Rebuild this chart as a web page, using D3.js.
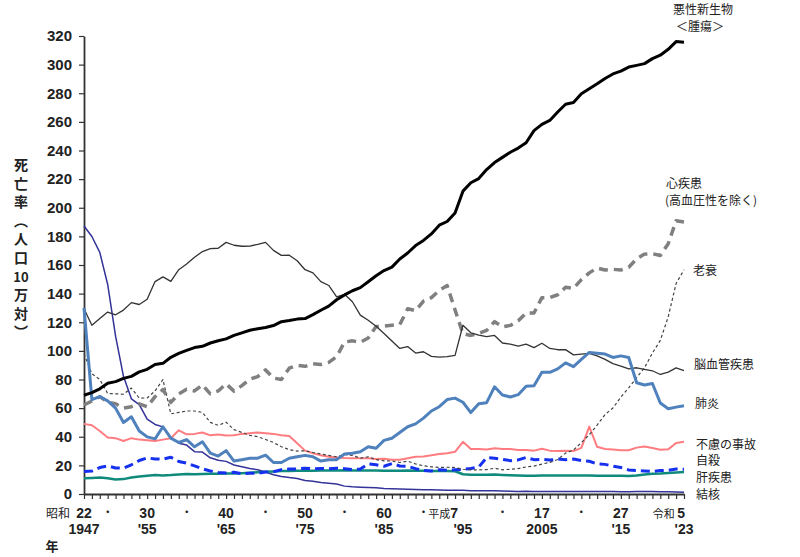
<!DOCTYPE html>
<html>
<head>
<meta charset="utf-8">
<script src="https://cdn.jsdelivr.net/npm/d3@7"></script>
<style>
  body { margin: 0; background: #fff; }
  svg text { font-family: "Noto Sans CJK JP", "Liberation Sans", sans-serif; fill: #222; }
  .num { font-family: "Liberation Sans", Arial, sans-serif; font-weight: bold; }
</style>
</head>
<body>
<div id="chart"></div>
<script>
// years 1947 (昭和22) .. 2023 (令和5)
const years = d3.range(1947, 2024);

// death rates per 100,000 population
const cancer = [69.0, 70.8, 73.5,
  77.4, 78.5, 80.8, 82.2, 85.3, 87.1, 90.5, 91.3, 95.5, 98.2,
  100.4, 102.3, 103.2, 105.5, 107.1, 108.4, 110.8, 112.6, 114.4, 115.5,
  116.3, 117.7, 120.4, 121.2, 122.2, 122.6, 125.3, 128.4, 131.3, 135.7,
  139.1, 142.0, 144.2, 148.3, 152.5, 156.1, 158.5, 164.2, 168.4, 173.6,
  177.2, 181.7, 187.8, 190.4, 196.4, 211.6, 217.5, 220.4, 226.7, 231.6,
  235.2, 238.8, 241.7, 245.4, 253.9, 258.3, 261.0, 266.9, 272.3, 273.5,
  279.7, 283.2, 286.6, 290.3, 293.5, 295.5, 298.3, 299.5, 300.7, 304.2,
  306.6, 310.7, 316.1, 315.6];

const heart = [62.2, 65.0, 68.0,
  64.2, 63.0, 60.0, 61.0, 63.0, 60.9, 68.0, 73.0, 64.0, 70.0,
  73.2, 72.0, 76.2, 70.0, 72.0, 77.0, 71.9, 75.7, 80.2, 82.0,
  86.7, 81.0, 80.0, 87.9, 90.0, 89.2, 91.0, 90.5, 92.0, 96.0,
  106.2, 107.0, 106.0, 109.0, 117.0, 117.3, 117.9, 118.4, 129.4, 128.1,
  134.8, 137.2, 142.2, 145.6, 128.6, 112.0, 110.8, 112.2, 114.3, 120.4,
  116.8, 117.8, 121.0, 126.5, 126.5, 137.2, 137.2, 139.2, 144.4, 143.7,
  149.8, 154.5, 157.9, 156.5, 157.0, 156.5, 158.4, 164.3, 167.6, 167.9,
  166.6, 174.9, 190.9, 190.1];

const senility = [98.0, 84.0, 80.0,
  70.2, 70.0, 69.7, 74.0, 67.0, 67.1, 72.0, 80.0, 56.0, 57.0,
  58.0, 58.0, 57.0, 50.0, 48.0, 50.1, 45.0, 43.0, 41.0, 40.0,
  38.1, 36.0, 33.0, 31.0, 30.0, 30.2, 29.0, 28.0, 27.0, 26.0,
  27.6, 27.0, 25.0, 26.0, 24.0, 23.2, 23.0, 22.0, 23.0, 21.0,
  19.7, 19.0, 18.6, 18.7, 18.5, 17.3, 16.8, 16.9, 17.0, 18.0,
  16.9, 17.3, 17.7, 18.9, 19.5, 20.9, 22.1, 24.1, 28.6, 30.7,
  35.9, 41.4, 48.2, 55.5, 60.1, 67.7, 74.2, 81.3, 88.2, 98.5,
  107.3, 123.8, 147.1, 156.7];

const cerebro = [129.4, 117.9, 122.6,
  127.1, 125.2, 128.5, 133.7, 132.4, 136.1, 148.4, 151.7, 148.6, 156.7,
  160.7, 165.4, 169.4, 171.4, 171.7, 175.8, 173.8, 173.1, 173.2, 174.4,
  175.8, 170.2, 166.7, 166.8, 163.0, 156.7, 154.5, 148.4, 145.7, 137.7,
  139.5, 134.3, 125.0, 121.4, 117.2, 112.2, 106.9, 101.7, 103.0, 98.5,
  99.4, 96.2, 95.6, 96.0, 96.9, 117.9, 112.6, 111.0, 110.0, 110.8,
  105.5, 104.7, 103.4, 104.7, 102.3, 105.3, 101.7, 100.8, 100.9, 97.2,
  97.7, 98.2, 96.5, 94.1, 91.1, 89.4, 87.4, 88.2, 87.1, 86.1,
  83.5, 85.2, 88.1, 86.2];

const pneumonia = [130.1, 66.0, 68.0,
  65.1, 60.0, 50.0, 54.0, 44.0, 39.9, 38.5, 47.0, 39.0, 36.0,
  38.0, 33.0, 36.5, 28.5, 26.5, 30.3, 23.0, 24.0, 25.0, 25.0,
  27.1, 22.0, 22.0, 25.0, 26.0, 27.0, 26.0, 23.0, 24.0, 24.0,
  28.0, 28.5, 29.5, 33.0, 32.0, 37.5, 39.0, 43.0, 47.0, 49.0,
  53.0, 58.0, 61.0, 66.0, 67.0, 64.1, 56.9, 63.1, 63.8, 74.9,
  69.2, 67.8, 69.4, 75.3, 75.7, 85.0, 85.0, 87.4, 91.6, 89.0,
  94.1, 98.9, 98.4, 97.8, 95.4, 96.5, 95.4, 77.7, 76.2, 77.2,
  63.6, 59.6, 60.7, 61.7];

const accident = [49.0, 48.0, 44.0,
  39.5, 39.0, 37.0, 39.0, 38.0, 37.5, 37.0, 38.0, 39.0, 44.5,
  41.7, 42.0, 43.0, 41.0, 41.5, 40.9, 41.0, 42.0, 42.5, 43.0,
  42.5, 42.0, 41.0, 40.5, 35.5, 30.3, 28.5, 27.0, 26.0, 25.5,
  25.1, 25.0, 25.0, 25.0, 24.5, 24.6, 24.0, 24.0, 25.0, 26.0,
  26.2, 27.0, 28.0, 28.5, 29.5, 36.5, 31.4, 31.5, 31.1, 32.0,
  31.4, 31.4, 30.7, 30.7, 30.3, 31.6, 30.3, 30.1, 30.3, 30.0,
  32.2, 47.1, 33.0, 31.5, 31.1, 30.6, 30.6, 32.4, 33.2, 32.1,
  30.9, 31.2, 35.6, 36.5];

const suicide = [15.7, 16.0, 18.5,
  19.6, 18.2, 18.1, 20.4, 23.4, 25.2, 24.5, 24.3, 25.7, 22.7,
  21.6, 19.6, 17.6, 16.1, 15.1, 14.7, 15.2, 14.2, 14.5, 14.5,
  15.3, 15.6, 17.0, 17.4, 17.5, 18.0, 17.6, 17.9, 17.6, 18.0,
  17.7, 17.1, 17.5, 21.0, 20.4, 19.4, 21.2, 19.6, 19.4, 17.7,
  16.4, 16.1, 17.0, 16.6, 16.9, 17.2, 17.8, 18.8, 25.4, 25.0,
  24.1, 23.3, 23.8, 25.5, 24.0, 24.2, 23.7, 24.4, 24.0, 24.4,
  23.4, 22.9, 21.0, 20.7, 19.5, 18.5, 16.8, 16.4, 16.1, 15.7,
  16.4, 16.5, 17.4, 17.3];

const liver = [11.0, 11.2, 11.5,
  11.0, 10.2, 10.4, 11.5, 12.3, 12.8, 13.2, 13.0, 13.2, 13.6,
  13.9, 13.8, 14.0, 14.1, 14.2, 14.4, 14.3, 14.5, 14.8, 15.2,
  15.5, 15.8, 16.0, 16.1, 16.2, 16.3, 16.3, 16.4, 16.5, 16.4,
  16.6, 16.5, 16.4, 16.5, 16.4, 16.2, 16.2, 16.2, 16.4, 16.3,
  16.2, 16.1, 16.0, 16.1, 15.9, 13.8, 13.5, 13.4, 13.5, 13.6,
  13.3, 13.1, 12.9, 12.8, 12.8, 13.0, 13.0, 13.0, 12.9, 12.9,
  13.0, 13.0, 12.8, 12.8, 12.8, 12.7, 12.6, 13.0, 13.7, 14.2,
  14.3, 14.6, 15.0, 15.3];

const tb = [187.2, 179.9, 168.8,
  146.4, 110.3, 82.2, 66.5, 62.4, 52.3, 48.6, 46.9, 39.4, 35.5,
  34.2, 29.6, 29.3, 25.3, 23.6, 22.8, 20.3, 19.0, 17.8, 16.9,
  15.4, 13.5, 12.3, 11.5, 10.9, 9.5, 8.9, 8.1, 7.5, 7.0,
  5.5, 5.0, 4.7, 4.5, 4.3, 3.9, 3.7, 3.5, 3.4, 3.2,
  3.0, 2.9, 2.8, 2.7, 2.6, 2.6, 2.3, 2.2, 2.2, 2.3,
  2.1, 2.0, 1.8, 1.9, 1.8, 1.8, 1.8, 1.8, 1.8, 1.7,
  1.7, 1.7, 1.7, 1.7, 1.7, 1.5, 1.5, 1.8, 1.8, 1.7,
  1.5, 1.5, 1.4, 1.3];

const yTicks = d3.range(0, 321, 20);
const labelYears = [1947, 1955, 1965, 1975, 1985, 2005, 2015];
const labelTop = ['22', '30', '40', '50', '60', '17', '27'];
const labelBottom = ['1947', "'55", "'65", "'75", "'85", '2005', "'15"];
const dotYears = [1950, 1960, 1970, 1980, 1990, 2000, 2010];

const width = 800, height = 557;
const margin = { top: 36, right: 116, bottom: 63, left: 84 };

const svg = d3.select('#chart').append('svg')
    .attr('width', width)
    .attr('height', height);

const x = d3.scaleLinear().domain([1947, 2023]).range([margin.left, width - margin.right]);
const y = d3.scaleLinear().domain([0, 320]).range([height - margin.bottom, margin.top]);

// axes
const yAxis = svg.append('g')
    .attr('transform', `translate(${margin.left},0)`)
    .call(d3.axisLeft(y).tickValues(yTicks).tickSize(5).tickSizeOuter(0).tickPadding(7));
yAxis.selectAll('text').attr('class', 'num').style('font-size', '15px').attr('fill', '#222');

svg.append('g')
    .attr('transform', `translate(0,${y(0)})`)
    .call(d3.axisBottom(x).tickValues(years).tickSize(5).tickSizeOuter(0).tickFormat(''));

svg.selectAll('.domain').attr('stroke', '#333').attr('stroke-width', 1.8);
svg.selectAll('.tick line').attr('stroke', '#333').attr('stroke-width', 1.2);

// x labels
labelYears.forEach((yr, i) => {
    svg.append('text').attr('class', 'num')
        .attr('x', x(yr)).attr('y', 518)
        .attr('text-anchor', 'middle').style('font-size', '14px')
        .text(labelTop[i]);
    svg.append('text').attr('class', 'num')
        .attr('x', x(yr)).attr('y', 534)
        .attr('text-anchor', 'middle').style('font-size', '14px')
        .text(labelBottom[i]);
});
dotYears.forEach(yr => {
    svg.append('text')
        .attr('x', x(yr)).attr('y', 516)
        .attr('text-anchor', 'middle').style('font-size', '10px').style('font-weight', 'bold')
        .text('・');
});
svg.append('text').attr('x', x(1947) - 14).attr('y', 518).attr('text-anchor', 'end')
    .style('font-size', '12px').text('昭和');
svg.append('text').attr('x', x(1995) - 5).attr('y', 518).attr('text-anchor', 'end')
    .style('font-size', '11px').html('平成<tspan class="num" style="font-size:14px">7</tspan>');
svg.append('text').attr('class', 'num').attr('x', x(1995)).attr('y', 534)
    .attr('text-anchor', 'middle').style('font-size', '14px').text("'95");
svg.append('text').attr('x', x(2023) + 1).attr('y', 518).attr('text-anchor', 'end')
    .style('font-size', '11px').html('令和 <tspan class="num" style="font-size:14px">5</tspan>');
svg.append('text').attr('class', 'num').attr('x', x(2023)).attr('y', 534)
    .attr('text-anchor', 'middle').style('font-size', '14px').text("'23");
svg.append('text').attr('x', 52).attr('y', 551).attr('text-anchor', 'middle')
    .style('font-size', '13px').style('font-weight', 'bold').text('年');

// y axis title, stacked vertically
const yTitle = ['死', '亡', '率', '︵', '人', '口', '10', '万', '対', '︶'];
yTitle.forEach((c, i) => {
    svg.append('text')
        .attr('x', 21).attr('y', 170 + i * 18.6)
        .attr('text-anchor', 'middle')
        .style('font-size', c === '10' ? '13px' : '14px')
        .style('font-weight', 'bold')
        .text(c);
});

// series
const series = [
    { values: tb, color: '#333399', w: 1.5, dash: null },
    { values: liver, color: '#0f8a7c', w: 2.5, dash: null },
    { values: suicide, color: '#1530ee', w: 3, dash: '9,5' },
    { values: accident, color: '#ff7c80', w: 2, dash: null },
    { values: senility, color: '#444', w: 1.2, dash: '3,2.5' },
    { values: heart, color: '#808080', w: 3.5, dash: '9,6' },
    { values: cerebro, color: '#333', w: 1.3, dash: null },
    { values: pneumonia, color: '#4f81bd', w: 3, dash: null },
    { values: cancer, color: '#000', w: 3, dash: null }
];

const line = d3.line()
    .x((d, i) => x(years[i]))
    .y(d => y(d));

series.forEach(s => {
    svg.append('path')
        .datum(s.values)
        .attr('fill', 'none')
        .attr('stroke', s.color)
        .attr('stroke-width', s.w)
        .attr('stroke-linejoin', 'round')
        .attr('stroke-dasharray', s.dash)
        .attr('d', line);
});

// series labels on the right
const seriesLabels = [
    { t: '悪性新生物', x: 703, y: 14, a: 'middle' },
    { t: '＜腫瘍＞', x: 700, y: 31, a: 'middle' },
    { t: '心疾患', x: 666, y: 188, a: 'start' },
    { t: '(高血圧性を除く)', x: 665, y: 205, a: 'start' },
    { t: '老衰', x: 693, y: 275, a: 'start' },
    { t: '脳血管疾患', x: 694, y: 369, a: 'start' },
    { t: '肺炎', x: 695, y: 408, a: 'start' },
    { t: '不慮の事故', x: 696, y: 449, a: 'start' },
    { t: '自殺', x: 696, y: 465, a: 'start' },
    { t: '肝疾患', x: 696, y: 482, a: 'start' },
    { t: '結核', x: 696, y: 499, a: 'start' }
];
seriesLabels.forEach(l => {
    svg.append('text')
        .attr('x', l.x).attr('y', l.y)
        .attr('text-anchor', l.a)
        .style('font-size', '12px')
        .text(l.t);
});
</script>
</body>
</html>
